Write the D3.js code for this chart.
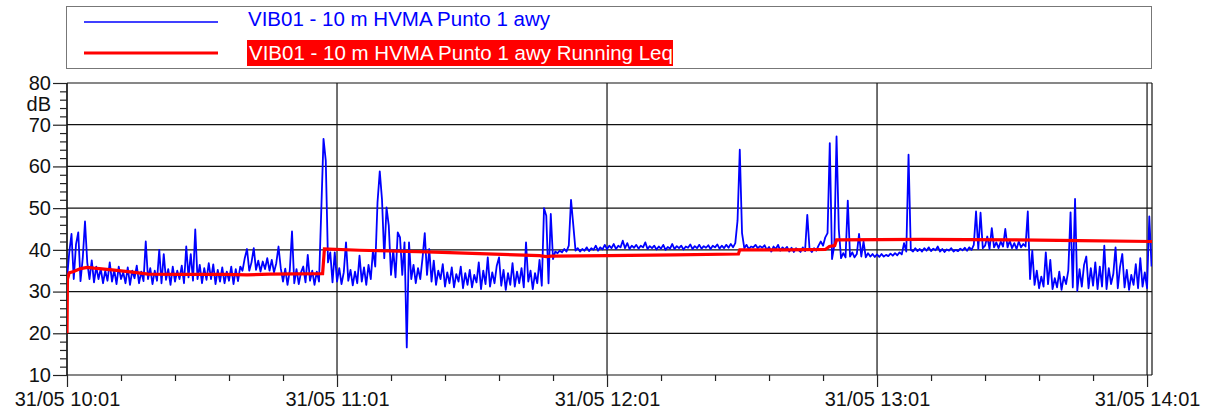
<!DOCTYPE html>
<html>
<head>
<meta charset="utf-8">
<script src="https://d3js.org/d3.v7.min.js"></script>
<style>
  body { margin: 0; background: #fff; }
  svg { display: block; font-family: "Liberation Sans", Arial, sans-serif; }
</style>
</head>
<body>
<svg id="chart" width="1206" height="414"></svg>
<script>
// VIB01 level, one value every 30 s starting 31/05 10:01
const sampleStepSec = 30;
const vibLevels = [
  33, 39.4, 43.8, 33, 41.3, 44.2, 32.5, 38, 46.8, 37, 33, 37.5, 32.2, 36, 33, 35.5, 32, 35, 32.6, 37,
  32.4, 35.2, 31.8, 36, 33, 34.6, 32, 35.8, 31.6, 35, 33.2, 36.2, 32, 34.8, 32.5, 42, 33, 35.6, 31.8, 35,
  32.6, 40, 32, 39, 32.8, 35.4, 31.6, 36, 32.4, 35, 33, 36.2, 32, 40.8, 33.4, 39, 32.6, 44.9, 33, 36.4,
  32, 35.6, 32.8, 36.8, 33, 36.5, 31.8, 35.2, 32.4, 35.8, 32, 34.8, 32.6, 36, 31.8, 35.4, 32.5, 36, 35, 38,
  40.2, 35, 37, 40.4, 35.2, 37.4, 34.8, 37.2, 35.4, 38, 35, 37.6, 34.6, 36.8, 40.8, 35.6, 32.4, 35.5, 31.6, 35,
  44.4, 32, 35.4, 31.8, 34.6, 36, 32.2, 38.8, 32.6, 35, 31.6, 34.8, 32.4, 49.4, 66.6, 61.4, 37, 39.4, 32.2, 39.4,
  32.4, 35.6, 31.8, 34.6, 41.8, 32.6, 35.2, 31.5, 34.8, 32, 38.6, 32.4, 35.8, 31.6, 36.4, 33, 40, 36, 51.4, 58.8,
  52, 38, 50.2, 45.8, 34, 40, 33.4, 44.2, 43, 34, 41.8, 16.6, 41.8, 33, 36.4, 32, 35.6, 33, 38, 44,
  34, 40.2, 32.4, 37.4, 31.6, 35, 33, 36.6, 31.2, 34.6, 32, 35.8, 31, 34.2, 32.4, 36, 30.8, 34.4, 31.6, 35.2,
  31, 34, 32.2, 37, 30.6, 35, 31.8, 38.2, 31.2, 34.6, 32, 36.2, 38.2, 31.4, 35.2, 30.4, 34.4, 31.6, 36.8, 31.2,
  34.8, 32, 35.6, 31, 41.8, 32.4, 35, 30.6, 34.4, 32, 37.6, 31.4, 50, 48.2, 32, 48.6, 37.8, 39.6, 39.2, 39.8,
  39.4, 40.2, 39.6, 41, 52, 46, 39.8, 40.4, 39.6, 40.2, 39.8, 40.6, 39.7, 40.4, 40, 41, 39.8, 40.6, 40.1, 41.2,
  40.2, 41, 40.4, 41.4, 40.2, 41, 40.6, 42.2, 40.4, 41.6, 40.2, 41, 40.5, 41.2, 40.3, 41, 40.6, 41.8, 40.2, 40.9,
  40.4, 41, 40.1, 40.8, 40.3, 41.2, 40, 40.7, 40.3, 41.4, 40.2, 40.9, 40.4, 41, 40.1, 40.8, 40.5, 41.3, 40.2, 40.9,
  40.4, 41.2, 40.3, 40.9, 40.5, 41.1, 40.2, 41, 40.6, 41.3, 40.3, 41, 40.4, 41.2, 40.5, 41.4, 40.6, 41.6, 47, 64,
  44, 40.4, 41.2, 40.2, 40.8, 40.6, 41.2, 40.4, 40.9, 40.5, 41.1, 40, 40.7, 39.6, 40.8, 40.2, 41.2, 39.8, 40.6, 40.1,
  40.7, 39.6, 40.5, 39.5, 40.4, 40, 39.5, 40.6, 39.7, 48.4, 40.2, 39.5, 40.4, 39.8, 41, 42, 41, 43, 44, 65.6,
  37.8, 41, 67.2, 45, 38, 39.2, 38.2, 51.8, 38.4, 39.4, 38.2, 39, 43.8, 38.4, 42, 38.2, 39.2, 38.4, 39, 38.3,
  38.9, 38.3, 39, 38.4, 38.8, 38.5, 39.1, 38.6, 39.2, 38.7, 39.4, 38.9, 41.6, 39.6, 62.8, 40, 39.6, 40.4, 39.7, 40.2,
  39.6, 40.4, 39.8, 40.6, 39.7, 40.3, 39.9, 40.8, 39.6, 40.2, 39.5, 40.1, 39.8, 40.4, 39.6, 40, 39.7, 40.3, 39.9, 40.5,
  39.8, 40.6, 40, 41.2, 49.2, 40.2, 48.9, 40.4, 41, 43.2, 40.2, 45.2, 40.6, 41.8, 40.4, 42, 40.8, 45, 40.6, 42.2,
  40.4, 41.6, 40.2, 42, 40.6, 41.4, 40.8, 49.2, 33, 39.8, 31.6, 35, 30.8, 33.6, 31.2, 39.4, 31.8, 37.6, 30.6, 33.2,
  31, 34.8, 30.4, 33.6, 31.8, 35, 49, 31, 52.2, 30.2, 35.4, 31.2, 36.4, 38.4, 30.8, 35.6, 31.4, 37, 30.6, 36,
  31.2, 41, 30.6, 35.6, 31.8, 34.2, 40.6, 30.8, 36, 39, 31, 35.2, 30.4, 34, 31.6, 36.6, 30.8, 38, 31.2, 34.6,
  30.8, 48, 36
];

// Running Leq, minutes after 10:01 and level
const leqMinutes = [0, 0.1, 0.5, 1.5, 3, 4.5, 6, 10, 15, 18, 25, 35, 40, 45, 56.8, 57.2, 65, 80, 95, 105, 106.5, 107.5, 120, 135, 149.2, 149.5, 160, 168.5, 169.4, 170.6, 171, 190, 210, 225, 241.1];
const leqLevels  = [20, 33, 34.5, 34.8, 35.5, 35.8, 35.6, 35.2, 34.6, 34.2, 34.1, 34.1, 34.0, 34.2, 34.3, 40.2, 39.9, 39.5, 39.0, 38.6, 38.4, 38.5, 38.6, 38.8, 39.0, 40.0, 40.0, 40.1, 40.8, 41.0, 42.4, 42.5, 42.4, 42.2, 42.0];

const seriesNames = ["VIB01 - 10 m HVMA Punto 1 awy", "VIB01 - 10 m HVMA Punto 1 awy Running Leq"];
const yTicks = [10, 20, 30, 40, 50, 60, 70, 80];
const xTickHours = [10, 11, 12, 13, 14];
const unitLabel = "dB";

const start = new Date(2023, 4, 31, 10, 1, 0);
const end = new Date(start.getTime() + 241.1 * 60000);
const minToDate = m => new Date(start.getTime() + m * 60000);

const plotLeft = 67, plotRight = 1152, plotTop = 83, plotBottom = 375;

const svg = d3.select('#chart');

const x = d3.scaleTime().domain([start, end]).range([plotLeft, plotRight]);
const y = d3.scaleLinear().domain([10, 80]).range([plotBottom, plotTop]);

// legend
const legend = svg.append('g');
legend.append('rect')
  .attr('x', 66.5).attr('y', 6.5).attr('width', 1085).attr('height', 62)
  .attr('fill', '#fff').attr('stroke', '#777').attr('stroke-width', 1);
legend.append('line').attr('x1', 84).attr('x2', 218).attr('y1', 22).attr('y2', 22)
  .attr('stroke', '#0000ff').attr('stroke-width', 1.5);
legend.append('line').attr('x1', 84).attr('x2', 218).attr('y1', 53).attr('y2', 53)
  .attr('stroke', '#ff0000').attr('stroke-width', 3);
legend.append('text').attr('x', 248).attr('y', 26).attr('font-size', 20.5)
  .attr('fill', '#0000ff').text(seriesNames[0]);
legend.append('rect').attr('x', 247).attr('y', 40).attr('width', 426).attr('height', 26)
  .attr('fill', '#ff0000');
legend.append('text').attr('x', 249).attr('y', 60).attr('font-size', 20.5)
  .attr('fill', '#fff').text(seriesNames[1]);

// grid
const grid = svg.append('g').attr('stroke', '#111').attr('stroke-width', 1.2);
grid.selectAll('.hg').data(yTicks).enter().append('line')
  .attr('x1', plotLeft).attr('x2', plotRight)
  .attr('y1', d => y(d)).attr('y2', d => y(d));
grid.selectAll('.vg').data(xTickHours).enter().append('line')
  .attr('x1', d => x(new Date(2023, 4, 31, d, 1))).attr('x2', d => x(new Date(2023, 4, 31, d, 1)))
  .attr('y1', plotTop).attr('y2', plotBottom);
grid.append('line').attr('x1', plotRight).attr('x2', plotRight).attr('y1', plotTop).attr('y2', plotBottom);
grid.append('line').attr('x1', plotLeft).attr('x2', plotLeft).attr('y1', plotTop).attr('y2', plotBottom);

// y axis
svg.append('g').attr('transform', `translate(${plotLeft},0)`)
  .call(d3.axisLeft(y).tickValues(yTicks).tickSize(14).tickPadding(2).tickFormat(d3.format('d')));
svg.append('g').attr('transform', `translate(${plotLeft},0)`)
  .call(d3.axisLeft(y).tickValues(d3.range(10, 81, 2).filter(v => v % 10)).tickSize(7).tickFormat(''));

// x axis
svg.append('g').attr('transform', `translate(0,${plotBottom})`)
  .call(d3.axisBottom(x).tickValues(xTickHours.map(h => new Date(2023, 4, 31, h, 1)))
    .tickSize(12).tickPadding(5).tickFormat(d3.timeFormat('%d/%m %H:%M')));
svg.append('g').attr('transform', `translate(0,${plotBottom})`)
  .call(d3.axisBottom(x).tickValues(d3.range(12, 241, 12).filter(m => m % 60).map(minToDate))
    .tickSize(6).tickFormat(''));

svg.selectAll('.domain').remove();
svg.selectAll('.tick line').attr('stroke', '#222').attr('stroke-width', 1.2);
svg.selectAll('.tick text').attr('font-size', 20).attr('fill', '#111')
  .attr('font-family', '"Liberation Sans", Arial, sans-serif');

svg.append('text').attr('x', 51).attr('y', 104).attr('dy', '0.35em')
  .attr('text-anchor', 'end').attr('font-size', 20).attr('fill', '#111').text(unitLabel);

// data
svg.append('clipPath').attr('id', 'plot')
  .append('rect').attr('x', plotLeft).attr('y', plotTop).attr('width', plotRight - plotLeft).attr('height', plotBottom - plotTop);

const vibLine = d3.line()
  .x((d, i) => x(new Date(start.getTime() + i * sampleStepSec * 1000)))
  .y(d => y(d));
svg.append('path').datum(vibLevels)
  .attr('clip-path', 'url(#plot)')
  .attr('fill', 'none').attr('stroke', '#0000ff').attr('stroke-width', 1.8)
  .attr('stroke-linejoin', 'round')
  .attr('d', vibLine);

const leqLine = d3.line()
  .x((d, i) => x(minToDate(leqMinutes[i])))
  .y(d => y(d));
svg.append('path').datum(leqLevels)
  .attr('clip-path', 'url(#plot)')
  .attr('fill', 'none').attr('stroke', '#ff0000').attr('stroke-width', 3.2)
  .attr('d', leqLine);
</script>
</body>
</html>
